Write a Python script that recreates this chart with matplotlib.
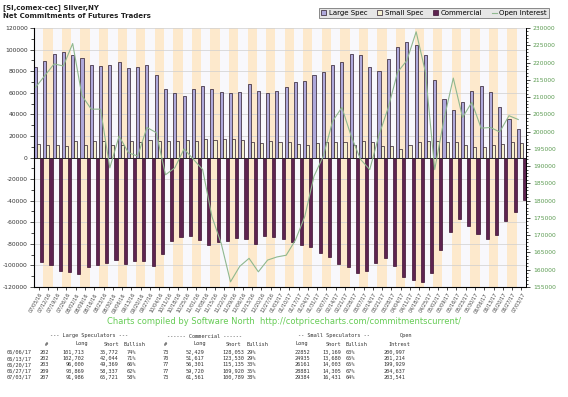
import matplotlib
matplotlib.use("Agg")
import matplotlib.pyplot as plt
from matplotlib.ticker import MultipleLocator, FuncFormatter
import datetime as dt

# ---------------- data ----------------
start = dt.date(2016, 7, 5)
dates = [(start + dt.timedelta(weeks=i)).strftime("%m/%d/%y") for i in range(52)] + ["07/03/17"]

large_spec = [84.0, 89.0, 95.8, 97.4, 94.9, 91.8, 85.9, 84.4, 85.3, 88.7,
              82.5, 83.4, 85.6, 76.6, 63.3, 59.6, 57.4, 63.3, 65.8, 63.3,
              60.6, 59.6, 60.6, 68.0, 61.8, 59.6, 62.0, 65.2, 70.4, 71.3,
              76.6, 78.8, 85.9, 88.7, 96.1, 94.6, 83.4, 79.7, 91.5, 102.0,
              106.6, 104.5, 94.6, 72.0, 54.3, 43.8, 51.3, 61.8, 65.9, 60.7,
              46.6, 35.5, 26.3]
small_spec = [12.9, 12.0, 12.0, 10.7, 15.0, 12.0, 15.0, 15.0, 11.4, 11.4,
              15.0, 14.1, 16.0, 15.0, 15.0, 15.0, 16.0, 15.0, 17.0, 16.0,
              17.5, 17.0, 16.0, 14.0, 13.0, 15.0, 14.0, 14.0, 12.2, 12.0,
              13.0, 14.0, 14.0, 14.0, 12.0, 15.0, 14.0, 10.7, 10.7, 8.3,
              12.0, 14.0, 15.0, 15.0, 14.0, 14.0, 12.0, 10.0, 9.7, 11.3,
              12.2, 14.6, 13.0]
commercial = [-97.0, -99.5, -105.6, -106.5, -108.3, -101.9, -100.0, -97.6, -94.7, -98.9,
              -95.8, -95.8, -100.4, -89.8, -77.2, -74.1, -72.9, -76.5, -81.3, -78.3,
              -77.7, -74.7, -75.3, -80.1, -73.2, -73.9, -75.3, -78.3, -81.3, -83.2,
              -88.6, -92.2, -98.3, -101.9, -107.3, -104.9, -97.3, -92.8, -101.0, -111.0,
              -113.4, -115.5, -107.3, -85.6, -68.7, -56.6, -63.6, -71.1, -75.6, -71.9,
              -58.8, -50.2, -39.2]
open_interest = [212.8, 216.2, 219.6, 219.0, 225.5, 210.4, 206.5, 206.5, 189.5, 198.7,
                 193.9, 192.9, 201.2, 199.7, 187.5, 189.5, 195.0, 192.0, 189.0, 175.4,
                 167.6, 156.5, 161.0, 163.3, 159.4, 162.8, 163.7, 164.2, 168.6, 175.4,
                 187.1, 192.9, 203.0, 207.0, 198.7, 192.0, 189.0, 199.0, 207.0, 217.2,
                 220.6, 228.9, 217.2, 189.0, 203.6, 215.5, 204.1, 208.5, 201.0, 201.2,
                 199.9, 204.6, 203.5]

# table data
tbl_dates = ["06/06/17", "06/13/17", "06/20/17", "06/27/17", "07/03/17"]
ls_num = ["202", "202", "203", "209", "207"]
ls_long = ["101,713", "102,702", "96,000", "93,869", "91,986"]
ls_short = ["35,772", "42,044", "49,369", "58,337", "65,721"]
ls_bull = ["74%", "71%", "66%", "62%", "58%"]
cm_num = ["73", "70", "77", "77", "73"]
cm_long = ["52,429", "51,617", "56,301", "59,720", "61,561"]
cm_short = ["128,053", "123,530", "115,135", "109,920", "100,789"]
cm_bull = ["29%", "29%", "33%", "35%", "38%"]
ss_long = ["22852", "24935", "26161", "28881", "29384"]
ss_short = ["13,169", "13,680", "14,003", "14,305", "16,431"]
ss_bull = ["63%", "65%", "65%", "67%", "64%"]
oi_tbl = ["200,997", "201,214", "199,929", "204,637", "203,541"]

# ---------------- figure ----------------
W, H = 568, 397
fig = plt.figure(figsize=(W / 100, H / 100), dpi=100)
fig.patch.set_facecolor("white")

def fx(px):
    return px / W

def fy(py):
    return 1 - py / H

L, R, T, B = 34, 526, 28, 287
ax = fig.add_axes([fx(L), fy(B), (R - L) / W, (B - T) / H])
ax.set_facecolor("#f8f8fc")

n = len(dates)
xs = list(range(n))
ax.set_xlim(-0.5, n - 0.5)
ax.set_ylim(-120000, 120000)

for i in xs:
    if i % 2 == 1:
        ax.axvspan(i - 0.5, i + 0.5, color="#fde9cc", lw=0, zorder=0)

for v in range(-120000, 120001, 20000):
    ax.axhline(v, color="#cfcfcf", lw=0.5, zorder=1)

bw = 1 / 3
lc = "#2a1a2a"
ax.bar([x - bw for x in xs], [v * 1000 for v in large_spec], width=bw,
       color="#aea8da", edgecolor=lc, linewidth=0.5, zorder=3, label="Large Spec")
ax.bar(xs, [v * 1000 for v in small_spec], width=bw,
       color="#f4f0cf", edgecolor=lc, linewidth=0.5, zorder=3, label="Small Spec")
ax.bar([x + bw for x in xs], [v * 1000 for v in commercial], width=bw,
       color="#5e2350", edgecolor="#3a1030", linewidth=0.5, zorder=3, label="Commercial")
ax.axhline(0, color="#222222", lw=0.6, zorder=4)

ax.yaxis.set_major_locator(MultipleLocator(20000))
ax.yaxis.set_minor_locator(MultipleLocator(10000))
ax.yaxis.set_major_formatter(FuncFormatter(lambda v, p: "%d" % v))
ax.tick_params(axis="y", labelsize=4.3, colors="#333333", length=3, width=0.6, pad=1.5)
ax.tick_params(axis="y", which="minor", length=2, width=0.5)
ax.set_xticks(xs)
ax.set_xticklabels(dates, rotation=60, ha="right", rotation_mode="anchor", fontsize=3.6, color="#444444")
ax.tick_params(axis="x", length=2, width=0.5, pad=1.5)
ax.spines["top"].set_visible(False)
for s in ["left", "bottom", "right"]:
    ax.spines[s].set_linewidth(0.7)
    ax.spines[s].set_color("#222222")

ax2 = ax.twinx()
ax2.set_ylim(155000, 230000)
ax2.plot([x - bw for x in xs], [v * 1000 for v in open_interest], color="#8fb88f", lw=0.8,
         zorder=5, label="Open Interest")
ax2.yaxis.set_major_locator(MultipleLocator(5000))
ax2.yaxis.set_minor_locator(MultipleLocator(1000))
ax2.yaxis.set_major_formatter(FuncFormatter(lambda v, p: "%d" % v))
ax2.tick_params(axis="y", labelsize=4.3, colors="#222222", labelcolor="#5a9a50", length=3, width=0.6, pad=2)
ax2.tick_params(axis="y", which="minor", length=1.5, width=0.5)
ax2.spines["top"].set_visible(False)
ax2.spines["right"].set_linewidth(0.7)

# titles
fig.text(fx(3), fy(8), "[SI,comex-cec] Silver,NY", fontsize=5, fontweight="bold", color="#222222", va="center")
fig.text(fx(3), fy(16.5), "Net Commitments of Futures Traders", fontsize=5, fontweight="bold", color="#222222", va="center")

# legend
h1, l1 = ax.get_legend_handles_labels()
h2, l2 = ax2.get_legend_handles_labels()
leg = fig.legend(h1 + h2, l1 + l2, loc="center", bbox_to_anchor=(fx(434), fy(13)), ncol=4,
                 fontsize=5, frameon=True, fancybox=False, edgecolor="#777777", facecolor="#e6e6e6",
                 handlelength=0.7, handleheight=0.7, handletextpad=0.4, columnspacing=1.4,
                 borderpad=0.35, framealpha=1)
leg.get_frame().set_linewidth(0.6)

# caption
fig.text(fx(284), fy(322), "Charts compiled by Software North  http://cotpricecharts.com/commitmentscurrent/",
         fontsize=6, color="#66cc55", ha="center", va="center")

# table
tf = dict(fontsize=3.8, color="#333333", family="DejaVu Sans Mono", va="center")
fig.text(fx(50), fy(336), "--- Large Speculators ---", **tf)
fig.text(fx(167), fy(336), "------ Commercial ------", **tf)
fig.text(fx(298), fy(336), "-- Small Speculators --", **tf)
fig.text(fx(412), fy(336), "Open", ha="right", **tf)
hy = fy(344)
for xx, t in [(45, "#"), (75, "Long"), (104, "Short"), (124, "Bullish"), (164, "#"), (193, "Long"),
              (226, "Short"), (247, "Bullish"), (296, "Long"), (326, "Short"), (346, "Bullish"), (388, "Intrest")]:
    fig.text(fx(xx), hy, t, ha="left", **tf)
cols = [(7, tbl_dates, "left"), (40, ls_num, "left"), (84, ls_long, "right"), (118, ls_short, "right"),
        (127, ls_bull, "left"), (163, cm_num, "left"), (204, cm_long, "right"), (244, cm_short, "right"),
        (247, cm_bull, "left"), (295, ss_long, "left"), (341, ss_short, "right"), (346, ss_bull, "left"),
        (405, oi_tbl, "right")]
for r in range(5):
    yy = fy(352.5 + r * 6.2)
    for xx, arr, ha in cols:
        fig.text(fx(xx), yy, arr[r], ha=ha, **tf)

fig.savefig("out.png", dpi=100)
